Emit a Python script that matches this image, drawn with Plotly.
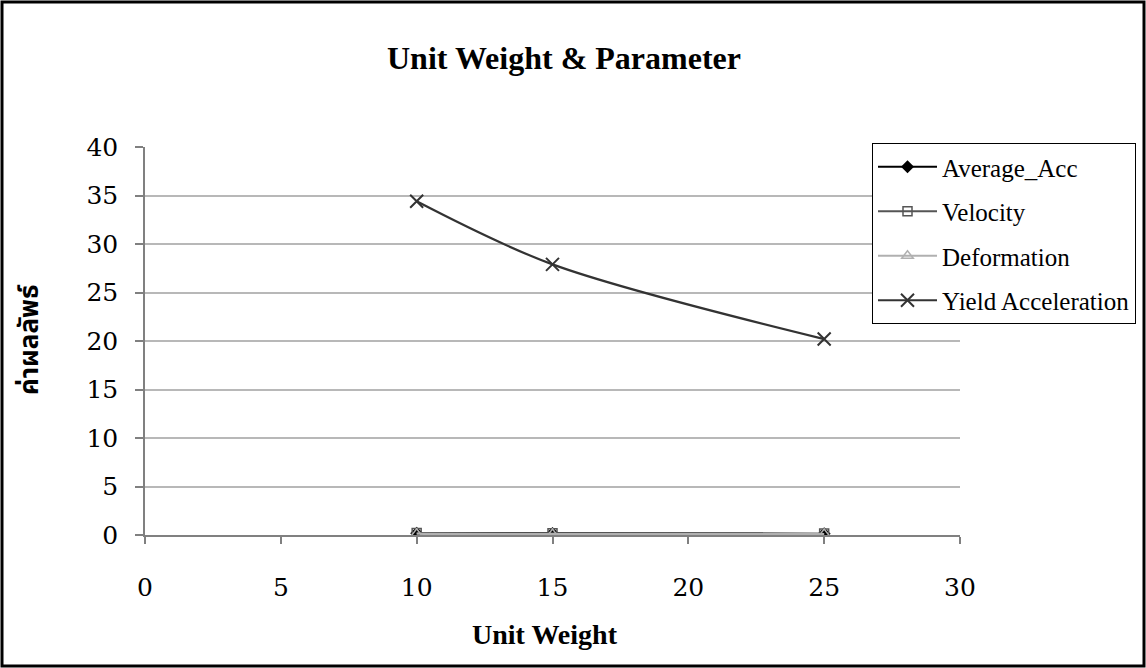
import plotly.graph_objects as go

unit_weight = [10, 15, 25]
average_acc = [0.18, 0.16, 0.14]
velocity = [0.2, 0.18, 0.16]
deformation = [0.12, 0.1, 0.1]
yield_acc = [34.4, 27.9, 20.2]

x_ticks = [0, 5, 10, 15, 20, 25, 30]
y_ticks = [0, 5, 10, 15, 20, 25, 30, 35, 40]

W, H = 1146, 668
L, R, T, B = 145, 186, 147, 133
pw, ph = W - L - R, H - T - B

fig = go.Figure()
fig.add_trace(go.Scatter(x=unit_weight, y=average_acc, name="Average_Acc", mode="lines+markers",
                         line=dict(color="#000000", width=2),
                         marker=dict(symbol="diamond", size=10, color="#000000"),
                         legendgroup="a"))
fig.add_trace(go.Scatter(x=unit_weight, y=velocity, name="Velocity", mode="lines+markers",
                         line=dict(color="#555555", width=2),
                         marker=dict(symbol="square-open", size=9, color="#555555", line=dict(width=1.5)),
                         legendgroup="b"))
fig.add_trace(go.Scatter(x=unit_weight, y=deformation, name="Deformation", mode="lines+markers",
                         line=dict(color="#b0b0b0", width=2),
                         marker=dict(symbol="triangle-up-open", size=10, color="#b0b0b0", line=dict(width=1.5)),
                         legendgroup="c"))
fig.add_trace(go.Scatter(x=unit_weight, y=yield_acc, name="Yield Acceleration", mode="lines+markers",
                         line=dict(color="#333333", width=2.2, shape="spline", smoothing=0.9),
                         marker=dict(symbol="x-thin-open", size=13, color="#333333", line=dict(width=2, color="#333333")),
                         legendgroup="d"))

fig.update_layout(
    width=W, height=H,
    margin=dict(l=L, r=R, t=T, b=B, autoexpand=False),
    paper_bgcolor="white", plot_bgcolor="white",
    title=dict(text="<b>Unit Weight & Parameter</b>", x=564 / W, xref="container", xanchor="center",
               y=1 - 58 / H, yref="container", yanchor="middle",
               font=dict(family="Liberation Serif", size=32, color="black")),
    legend=dict(x=(872 - L) / pw, y=(535 - 143) / ph, xanchor="left", yanchor="top",
                bgcolor="white", bordercolor="black", borderwidth=1,
                font=dict(family="Liberation Serif", size=25, color="black"),
                tracegroupgap=9, traceorder="grouped", itemwidth=59),
    showlegend=True,
)
fig.update_xaxes(range=[0, 30], tickvals=x_ticks, ticktext=[str(v) for v in x_ticks],
                 showgrid=False, zeroline=False, showline=True, linecolor="#808080", linewidth=1.5,
                 ticks="outside", ticklen=7, tickcolor="#808080", tickwidth=1.5,
                 tickfont=dict(family="DejaVu Serif", size=25, color="black"), ticklabelstandoff=22)
fig.update_yaxes(range=[0, 40], tickvals=y_ticks, ticktext=[str(v) for v in y_ticks],
                 showgrid=True, gridcolor="#b8b8b8", gridwidth=1.5, zeroline=False,
                 showline=True, linecolor="#808080", linewidth=1.5,
                 ticks="outside", ticklen=8, tickcolor="#808080", tickwidth=1.5,
                 tickfont=dict(family="DejaVu Serif", size=25, color="black"), ticklabelstandoff=12)

fig.add_annotation(text="<b>Unit Weight</b>", x=(545 - L) / pw, y=(535 - 634) / ph, xref="paper", yref="paper",
                   showarrow=False, xanchor="center", yanchor="middle",
                   font=dict(family="Liberation Serif", size=28, color="black"))
fig.add_annotation(text="<b>ค่าผลลัพธ์</b>", x=(30 - L) / pw, y=(535 - 340) / ph, xref="paper", yref="paper",
                   showarrow=False, xanchor="center", yanchor="middle", textangle=-90,
                   font=dict(family="Noto Sans Thai, Tahoma, Noto Sans, sans-serif", size=26, color="black"))

fig.add_shape(type="rect", xref="paper", yref="paper",
              x0=(2 - L) / pw, x1=(W - 2 - L) / pw, y0=(535 - (H - 2)) / ph, y1=(535 - 2) / ph,
              line=dict(color="black", width=3), fillcolor="rgba(0,0,0,0)", layer="above")

fig.write_html("out.html", config={"displayModeBar": False},
               post_script="document.body.style.margin='0';document.body.style.overflow='hidden';")
